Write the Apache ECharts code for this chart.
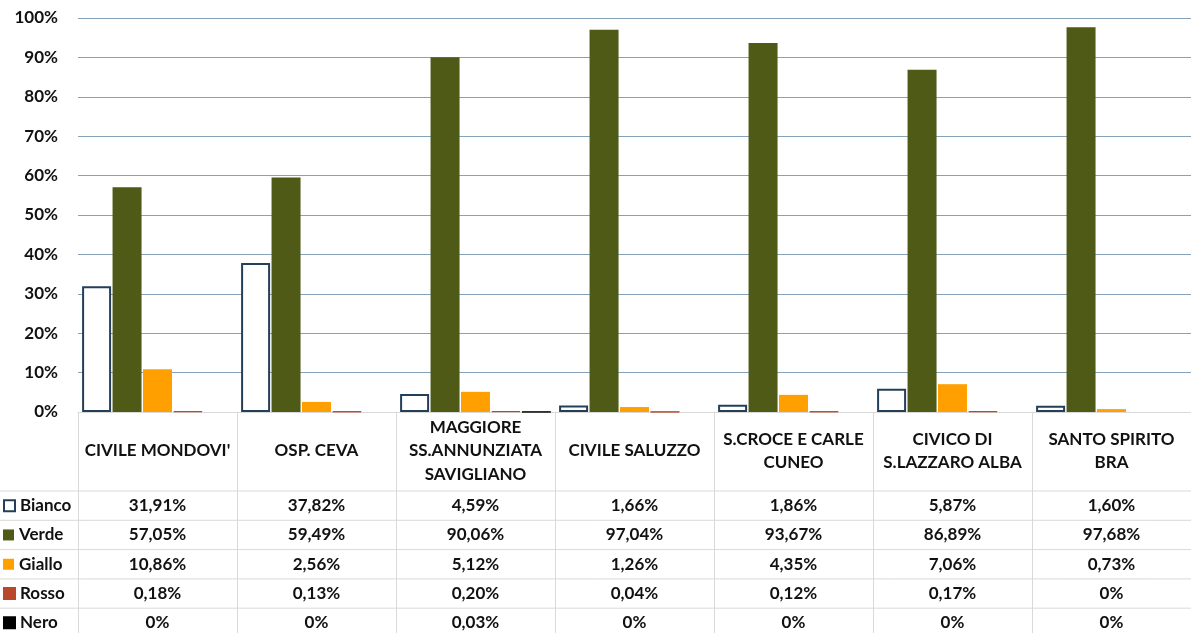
<!DOCTYPE html>
<html>
<head>
<meta charset="utf-8">
<script src="https://cdn.jsdelivr.net/npm/echarts@6/dist/echarts.min.js"></script>
<style>
  html, body { margin: 0; padding: 0; background: #fff; }
  #chart { width: 1191px; height: 633px; }
</style>
</head>
<body>
<div id="chart"></div>
<script>
// ospedali (nomi a capo come nella tabella dati)
const categories = ["CIVILE MONDOVI'", 'OSP. CEVA', 'MAGGIORE\nSS.ANNUNZIATA\nSAVIGLIANO', 'CIVILE SALUZZO',
    'S.CROCE E CARLE\nCUNEO', 'CIVICO DI\nS.LAZZARO ALBA', 'SANTO SPIRITO\nBRA']
const seriesNames = ['Bianco', 'Verde', 'Giallo', 'Rosso', 'Nero']
// percentuali per codice colore
const bianco = [31.91, 37.82, 4.59, 1.66, 1.86, 5.87, 1.60]
const verde = [57.05, 59.49, 90.06, 97.04, 93.67, 86.89, 97.68]
const giallo = [10.86, 2.56, 5.12, 1.26, 4.35, 7.06, 0.73]
const rosso = [0.18, 0.13, 0.20, 0.04, 0.12, 0.17, 0]
const nero = [0, 0, 0.03, 0, 0, 0, 0]
const yTicks = [0, 10, 20, 30, 40, 50, 60, 70, 80, 90, 100]

const values = [bianco, verde, giallo, rosso, nero]
const colors = ['#ffffff', '#4f5a16', '#ffa000', '#b9472a', '#000000']

const font = 'Lato, "Open Sans", sans-serif'
const fontSize = 17
const gridTop = 18, gridBottom = 221
const rowTop = 491, rowH = 29.3   // righe della tabella dati
const chartH = 633

function fmt(v) {
    if (v === 0) return '0%'
    return v.toFixed(2).replace('.', ',') + '%'
}

let chart = echarts.init(document.getElementById('chart'))

let xAxes = [{
    type: 'category',
    data: categories,
    axisLine: { lineStyle: { color: '#d9d9d9', width: 1 } },
    axisTick: { show: true, length: gridBottom, lineStyle: { color: '#d9d9d9' } },
    axisLabel: {
        interval: 0,
        margin: 39,
        verticalAlign: 'middle',
        color: '#111',
        fontFamily: font,
        fontWeight: 'bold',
        fontSize: fontSize,
        lineHeight: 23.5
    }
}]
values.forEach(function (arr, i) {
    xAxes.push({
        type: 'category',
        data: categories,
        position: 'bottom',
        axisLine: { show: false },
        axisTick: { show: false },
        axisLabel: {
            interval: 0,
            margin: rowTop - (chartH - gridBottom) + rowH * i + rowH / 2,
            verticalAlign: 'middle',
            color: '#111',
            fontFamily: font,
            fontWeight: 'bold',
            fontSize: fontSize,
            formatter: function (val, idx) { return fmt(arr[idx]) }
        }
    })
})

let series = seriesNames.map(function (name, i) {
    let style = { color: colors[i] }
    if (i === 0) {
        style.borderColor = '#243f5a'
        style.borderWidth = 2
    }
    if (i >= 3) {
        style.borderColor = colors[i]
        style.borderWidth = 1
    }
    return {
        name: name,
        type: 'bar',
        xAxisIndex: 0,
        barWidth: 29,
        barGap: '5%',
        itemStyle: style,
        data: values[i].map(function (v) { return (i >= 3 && v === 0) ? '-' : v })
    }
})

// una legenda per ogni riga della tabella
let legends = seriesNames.map(function (name, i) {
    return {
        data: [name],
        left: 3,
        top: rowTop + rowH * i + rowH / 2 - 9,
        padding: 0,
        itemWidth: 11,
        itemHeight: 11,
        itemGap: 4,
        icon: 'rect',
        textStyle: { fontFamily: font, fontWeight: 'bold', fontSize: fontSize, color: '#111', lineHeight: 18 }
    }
})

// linee orizzontali della tabella
let tableLines = []
for (let i = 0; i < 5; i++) {
    tableLines.push({
        type: 'line',
        shape: { x1: 0, y1: rowTop + rowH * i, x2: 1191, y2: rowTop + rowH * i },
        style: { stroke: '#d9d9d9', lineWidth: 1 },
        silent: true
    })
}

let option = {
    animation: false,
    grid: { left: 78, right: -7, top: gridTop, bottom: gridBottom, containLabel: false },
    legend: legends,
    xAxis: xAxes,
    yAxis: {
        type: 'value',
        min: yTicks[0],
        max: yTicks[yTicks.length - 1],
        interval: 10,
        axisLine: { show: false },
        axisTick: { show: false },
        splitLine: { lineStyle: { color: '#86a2ba', width: 1.2 } },
        axisLabel: {
            margin: 20,
            formatter: '{value}%',
            color: '#111',
            fontFamily: font,
            fontWeight: 'bold',
            fontSize: fontSize
        }
    },
    graphic: tableLines,
    series: series
}
chart.setOption(option, true)
</script>
</body>
</html>
